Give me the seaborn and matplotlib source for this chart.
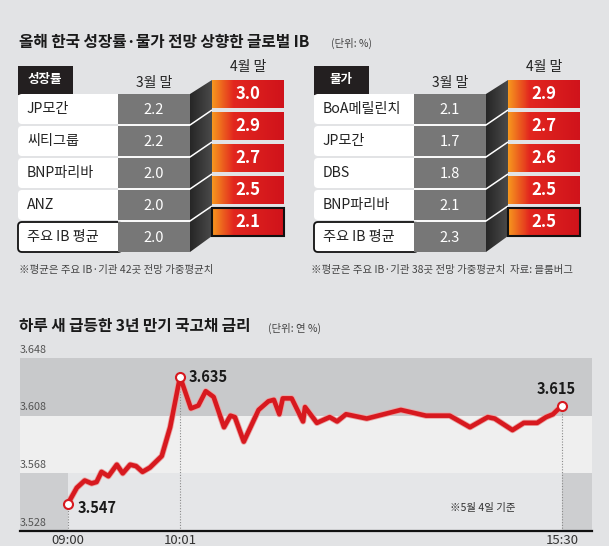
import numpy as np
import seaborn as sns
import matplotlib.pyplot as plt
import matplotlib.patheffects as pe
from matplotlib.patches import Rectangle, FancyBboxPatch, Polygon
from matplotlib.colors import LinearSegmentedColormap

# upper tables (unit: %)
growth_names = ["JP모간", "씨티그룹", "BNP파리바", "ANZ", "주요 IB 평균"]
growth_march = [2.2, 2.2, 2.0, 2.0, 2.0]
growth_april = [3.0, 2.9, 2.7, 2.5, 2.1]

price_names = ["BoA메릴린치", "JP모간", "DBS", "BNP파리바", "주요 IB 평균"]
price_march = [2.1, 1.7, 1.8, 2.1, 2.3]
price_april = [2.9, 2.7, 2.6, 2.5, 2.5]

# 3-year treasury yield on May 4 (x = position along the session, 0 = 09:00, 100 = 15:30)
pos = [0, 1.8, 3.4, 4.8, 5.8, 6.8, 8.2, 9.9, 11.1, 12.6,
       13.8, 15.1, 16.6, 19.0, 20.7, 22.7, 24.9, 26.4, 27.9, 29.5,
       31.6, 32.9, 33.8, 35.6, 38.6, 40.6, 41.7, 42.8, 43.5, 45.3,
       47.6, 48.0, 50.4, 53.0, 54.5, 56.3, 60.5, 67.4, 72.5, 77.3,
       81.4, 85.0, 86.4, 90.0, 92.3, 95.0, 96.8, 98.2, 100]
rate = [3.547, 3.558, 3.563, 3.561, 3.562, 3.569, 3.566, 3.574, 3.568, 3.574,
        3.573, 3.569, 3.572, 3.580, 3.600, 3.635, 3.613, 3.615, 3.625, 3.621,
        3.600, 3.608, 3.607, 3.590, 3.612, 3.618, 3.619, 3.609, 3.620, 3.620,
        3.604, 3.614, 3.603, 3.607, 3.604, 3.609, 3.606, 3.612, 3.608, 3.608,
        3.600, 3.607, 3.606, 3.598, 3.603, 3.603, 3.607, 3.609, 3.615]
time_labels = ["09:00", "10:01", "15:30"]
time_idx = [0, 15, 48]
band_edges = [3.528, 3.568, 3.608, 3.648]

sns.set_theme(style="white")
plt.rcParams['font.family'] = ['Noto Sans CJK KR', 'DejaVu Sans']

BG = '#e2e3e5'
RED = '#d7191f'
hot = LinearSegmentedColormap.from_list('hot', [(0, '#f6961e'), (0.3, '#e2261f'), (1, '#d0131b')])
dark = LinearSegmentedColormap.from_list('dark', ['#262626', '#4a4a4a'])
grad = np.linspace(0, 1, 64)[None, :]

fig = plt.figure(figsize=(6.09, 5.46), dpi=100, facecolor=BG)
ax = fig.add_axes([0, 0, 1, 1])
ax.axis('off')


def draw_table(dx, header, names, march, april):
    n = len(names)
    ax.add_patch(Rectangle((18 + dx, 66), 55, 29, fc='#231f20', ec='none', zorder=2))
    ax.text(45 + dx, 80, header, color='white', fontsize=9, weight='bold', ha='center', va='center', zorder=3)
    ax.text(154 + dx, 83, "3월 말", color='#222', fontsize=10, ha='center', va='center')
    ax.text(248 + dx, 67, "4월 말", color='#222', fontsize=10, ha='center', va='center')

    # dark side face between the two columns
    side = Polygon([(190 + dx, 94), (212 + dx, 80), (212 + dx, 80 + 32 * (n - 1) + 28),
                    (190 + dx, 94 + 32 * (n - 1) + 30)], closed=True, fc='none', ec='none')
    ax.add_patch(side)
    im = ax.imshow(grad, cmap=dark, extent=(190 + dx, 212 + dx, 260, 70), aspect='auto', zorder=1)
    im.set_clip_path(side)

    for i, (name, m, a) in enumerate(zip(names, march, april)):
        yg = 94 + 32 * i
        yr = 80 + 32 * i
        last = i == n - 1
        ax.add_patch(FancyBboxPatch((18 + dx, yg), 104, 30, boxstyle="round,pad=0,rounding_size=4",
                                    fc='white', ec='#111' if last else 'none', lw=1.3, zorder=2))
        ax.add_patch(Rectangle((118 + dx, yg), 72, 30, fc='#777777', ec='none', zorder=3))
        ax.text(27 + dx, yg + 15, name, color='#222', fontsize=10.2, va='center', zorder=4)
        ax.text(154 + dx, yg + 16, f"{m:.1f}", color='white', fontsize=10.5, ha='center', va='center', zorder=4)
        ax.imshow(grad, cmap=hot, extent=(212 + dx, 284 + dx, yr + 28, yr), aspect='auto', zorder=3)
        if last:
            ax.add_patch(Rectangle((212 + dx, yr), 72, 28, fc='none', ec='#111', lw=1.5, zorder=4))
        ax.text(248 + dx, yr + 14, f"{a:.1f}", color='white', fontsize=12, weight='bold',
                ha='center', va='center', zorder=5)
        if not last:
            ax.plot([118 + dx, 190 + dx, 212 + dx], [yg + 31, yg + 31, yr + 30],
                    color='white', lw=1.1, zorder=4, solid_capstyle='butt')


ax.text(19, 42, "올해 한국 성장률·물가 전망 상향한 글로벌 IB", fontsize=11.3, weight='bold', color='#1a1a1a', va='center')
ax.text(331, 43, "(단위: %)", fontsize=7.5, color='#444', va='center')
draw_table(0, "성장률", growth_names, growth_march, growth_april)
draw_table(296, "물가", price_names, price_march, price_april)
ax.text(19, 270, "※평균은 주요 IB·기관 42곳 전망 가중평균치", fontsize=7.5, color='#444', va='center')
ax.text(311, 270, "※평균은 주요 IB·기관 38곳 전망 가중평균치  자료: 블룸버그", fontsize=7.5, color='#444', va='center')

ax.text(19, 326, "하루 새 급등한 3년 만기 국고채 금리", fontsize=11.3, weight='bold', color='#1a1a1a', va='center')
ax.text(268, 328, "(단위: 연 %)", fontsize=7.5, color='#444', va='center')
ax.set_xlim(0, 609)
ax.set_ylim(546, 0)

# line chart
lax = fig.add_axes([20 / 609, 1 - 531 / 546, 572 / 609, 173 / 546])
lax.set_facecolor('none')
lax.axhspan(band_edges[2], band_edges[3], color='#c8c9cb', lw=0)
lax.axhspan(band_edges[1], band_edges[2], color='#efefef', lw=0)
lax.axhspan(band_edges[0], band_edges[1], color='#cdced0', lw=0)
lax.fill_between([pos[0], pos[-1]], band_edges[0], band_edges[1], color='#e5e6e8', lw=0)

for i in time_idx:
    lax.plot([pos[i], pos[i]], [band_edges[0], rate[i]], color='#8a8a8a', lw=0.8, ls=(0, (1, 1.5)))

sns.lineplot(x=pos, y=rate, ax=lax, color=RED, lw=3.3, sort=False, zorder=5,
             path_effects=[pe.Stroke(linewidth=4.5, foreground='#eba3a3'), pe.Normal()])
lax.plot([pos[i] for i in time_idx], [rate[i] for i in time_idx], 'o', ms=6.5,
         mfc='white', mec=RED, mew=1.5, zorder=6)

offsets = [((7, -3), 'left'), ((6, 0), 'left'), ((-4, 12), 'center')]
for i, (off, ha) in zip(time_idx, offsets):
    lax.annotate(f"{rate[i]:.3f}", xy=(pos[i], rate[i]), xytext=off, textcoords='offset points',
                 ha=ha, va='center', fontsize=10.5, weight='bold', color='#1a1a1a', zorder=7)

for v in band_edges:
    lax.annotate(f"{v:.3f}", xy=(0, v), xycoords=('axes fraction', 'data'), xytext=(0, 2.5),
                 textcoords='offset points', ha='left', va='bottom', fontsize=7.8, color='#555',
                 annotation_clip=False)

lax.text(84, 3.544, "※5월 4일 기준", fontsize=7.5, color='#333', ha='center', va='center')

lax.set_xlim(-9.7, 106.1)
lax.set_ylim(band_edges[0], band_edges[-1])
lax.set_yticks([])
lax.set_xticks([pos[i] for i in time_idx])
lax.set_xticklabels(time_labels)
lax.tick_params(axis='x', length=0, pad=2, labelsize=9.5, labelcolor='#333')
lax.set_xlabel('')
lax.set_ylabel('')
for s in ['top', 'left', 'right']:
    lax.spines[s].set_visible(False)
lax.spines['bottom'].set_color('#111')
lax.spines['bottom'].set_linewidth(1.6)

fig.savefig('out.png', dpi=100, facecolor=BG)
